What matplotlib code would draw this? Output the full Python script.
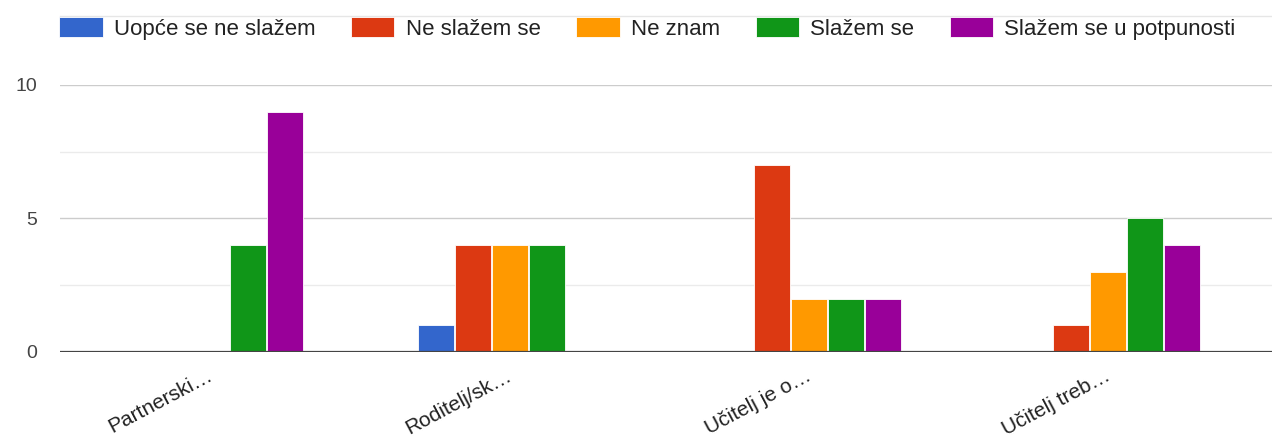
import matplotlib
matplotlib.use("Agg")
import matplotlib.pyplot as plt
import matplotlib.transforms as mtransforms
import numpy as np

categories = ["Partnerski…", "Roditelj/sk…", "Učitelj je o…", "Učitelj treb…"]
series_names = ["Uopće se ne slažem", "Ne slažem se", "Ne znam", "Slažem se",
                "Slažem se u potpunosti"]
uopce_se_ne_slazem = [0, 1, 0, 0]
ne_slazem_se = [0, 4, 7, 1]
ne_znam = [0, 4, 2, 3]
slazem_se = [4, 4, 2, 5]
slazem_se_u_potpunosti = [9, 0, 2, 4]
series_values = [uopce_se_ne_slazem, ne_slazem_se, ne_znam, slazem_se,
                 slazem_se_u_potpunosti]
colors = ["#3366cc", "#dc3912", "#ff9900", "#109618", "#990099"]
y_ticks = [0, 5, 10]

plt.rcParams["font.family"] = ["Liberation Sans", "DejaVu Sans"]

W, H = 1272, 437
fig = plt.figure(figsize=(W / 100, H / 100), dpi=100)
ax = fig.add_axes([60 / W, (H - 352) / H, (W - 60) / W, (352 - 85) / H])

# faint top border line behind legend
fig.add_artist(plt.Line2D([60 / W, 1.0], [(H - 16) / H, (H - 16) / H],
                          color="#e6e6e6", linewidth=1.0, zorder=0))

x = np.arange(len(categories))
pitch = 0.124
bw = 0.12
n = len(series_names)
for i, (name, vals, c) in enumerate(zip(series_names, series_values, colors)):
    offs = (i - (n - 1) / 2) * pitch
    ax.bar(x + offs, vals, width=bw, color=c, label=name, edgecolor="white",
           linewidth=0.6, zorder=3)

ax.set_xlim(-0.505, 3.548)
ax.set_ylim(0, 10)
ax.set_yticks(y_ticks)
ax.set_yticks([2.5, 7.5], minor=True)
ax.grid(axis="y", which="major", color="#cccccc", linewidth=1.0, zorder=0)
ax.grid(axis="y", which="minor", color="#ebebeb", linewidth=1.0, zorder=0)
ax.axhline(0, color="#444444", linewidth=1.6, zorder=4)
for s in ax.spines.values():
    s.set_visible(False)
ax.tick_params(axis="y", which="both", length=0, pad=16.5, labelsize=14,
               labelcolor="#444444")
ax.tick_params(axis="x", length=0, pad=10, labelsize=15, labelcolor="#222222")
ax.set_xticks(x)
ax.set_xticklabels(categories, rotation=28, ha="right", rotation_mode="anchor")
offset = mtransforms.ScaledTranslation(-4 / 100, 0, fig.dpi_scale_trans)
for lbl in ax.get_xticklabels():
    lbl.set_transform(lbl.get_transform() + offset)
for lbl in ax.get_yticklabels():
    lbl.set_horizontalalignment("right")

fig.legend(loc="upper center", bbox_to_anchor=(0.509, 1.0), ncol=5,
           frameon=False, fontsize=16, handlelength=1.94, handleheight=1.05,
           handletextpad=0.5, columnspacing=1.62, labelcolor="#222222",
           borderaxespad=0.35)

fig.savefig("out.png", dpi=100, facecolor="white")
